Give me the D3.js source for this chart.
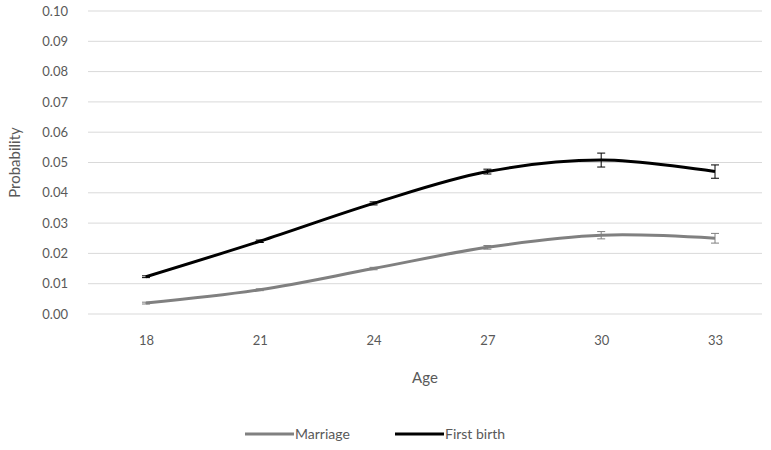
<!DOCTYPE html>
<html>
<head>
<meta charset="utf-8">
<script src="https://cdn.jsdelivr.net/npm/d3@7"></script>
<style>
  body { margin: 0; background: #fff; }
  text { font-family: Lato, "Open Sans", sans-serif; fill: #595959; }
</style>
</head>
<body>
<div id="vis"></div>
<script>
const width = 771;
const height = 450;
const margin = { top: 11, right: 9, bottom: 136, left: 88 };

const ages = [18, 21, 24, 27, 30, 33];
const marriage = [0.0036, 0.008, 0.015, 0.022, 0.026, 0.025];
const marriageErr = [0.0003, 0.0003, 0.0004, 0.0006, 0.0012, 0.0016];
const firstBirth = [0.0123, 0.024, 0.0365, 0.047, 0.0508, 0.047];
const firstBirthErr = [0.0003, 0.0004, 0.0005, 0.0008, 0.0023, 0.0022];
const yTicks = [0, 0.01, 0.02, 0.03, 0.04, 0.05, 0.06, 0.07, 0.08, 0.09, 0.10];

const series = [
  { name: "Marriage", values: marriage, err: marriageErr, color: "#808080" },
  { name: "First birth", values: firstBirth, err: firstBirthErr, color: "#000000" }
];

const w = width - margin.left - margin.right;
const h = height - margin.top - margin.bottom;

// category centres sit about 58px in from the plot's left edge
const x = d3.scalePoint().domain(ages).range([58, w - 47]);
const y = d3.scaleLinear().domain([0, 0.10]).range([h, 0]);

const svg = d3.select("#vis").append("svg")
  .attr("width", width)
  .attr("height", height);

const g = svg.append("g")
  .attr("transform", "translate(" + margin.left + "," + margin.top + ")");

// gridlines
g.append("g")
  .selectAll("line")
  .data(yTicks)
  .enter().append("line")
  .attr("x1", 0).attr("x2", w)
  .attr("y1", d => y(d)).attr("y2", d => y(d))
  .attr("stroke", "#d9d9d9")
  .attr("stroke-width", 1);

// y axis labels
const yAxis = g.append("g")
  .call(d3.axisLeft(y).tickValues(yTicks).tickFormat(d3.format(".2f")).tickSize(0).tickPadding(20));
yAxis.select(".domain").remove();
yAxis.selectAll("text").style("font-size", "13px").attr("fill", "#595959");

// x axis labels
const xAxis = g.append("g")
  .attr("transform", "translate(0," + h + ")")
  .call(d3.axisBottom(x).tickSize(0).tickPadding(22));
xAxis.select(".domain").remove();
xAxis.selectAll("text").style("font-size", "13px").attr("fill", "#595959");

const line = d3.line()
  .x((d, i) => x(ages[i]))
  .y(d => y(d))
  .curve(d3.curveCatmullRom.alpha(0.5));

series.forEach(s => {
  g.append("path")
    .datum(s.values)
    .attr("fill", "none")
    .attr("stroke", s.color)
    .attr("stroke-width", 3)
    .attr("d", line);

  const eb = g.append("g").attr("stroke", s.color).attr("stroke-width", 1);
  s.values.forEach((v, i) => {
    const cx = x(ages[i]);
    eb.append("line").attr("x1", cx).attr("x2", cx)
      .attr("y1", y(v - s.err[i])).attr("y2", y(v + s.err[i]));
    eb.append("line").attr("x1", cx - 4).attr("x2", cx + 4)
      .attr("y1", y(v - s.err[i])).attr("y2", y(v - s.err[i]));
    eb.append("line").attr("x1", cx - 4).attr("x2", cx + 4)
      .attr("y1", y(v + s.err[i])).attr("y2", y(v + s.err[i]));
  });
});

// axis titles
svg.append("text")
  .attr("x", margin.left + w / 2)
  .attr("y", 383)
  .attr("text-anchor", "middle")
  .style("font-size", "15px")
  .text("Age");

svg.append("text")
  .attr("transform", "translate(20," + (margin.top + h / 2) + ") rotate(-90)")
  .attr("text-anchor", "middle")
  .style("font-size", "15px")
  .text("Probability");

// legend
const legendX = [245, 395];
series.forEach((s, i) => {
  const lg = svg.append("g").attr("transform", "translate(" + legendX[i] + ",434)");
  lg.append("line").attr("x1", 0).attr("x2", 49).attr("y1", 0).attr("y2", 0)
    .attr("stroke", s.color).attr("stroke-width", 3);
  lg.append("text").attr("x", 50).attr("y", 5)
    .style("font-size", "14px")
    .text(s.name);
});
</script>
</body>
</html>
